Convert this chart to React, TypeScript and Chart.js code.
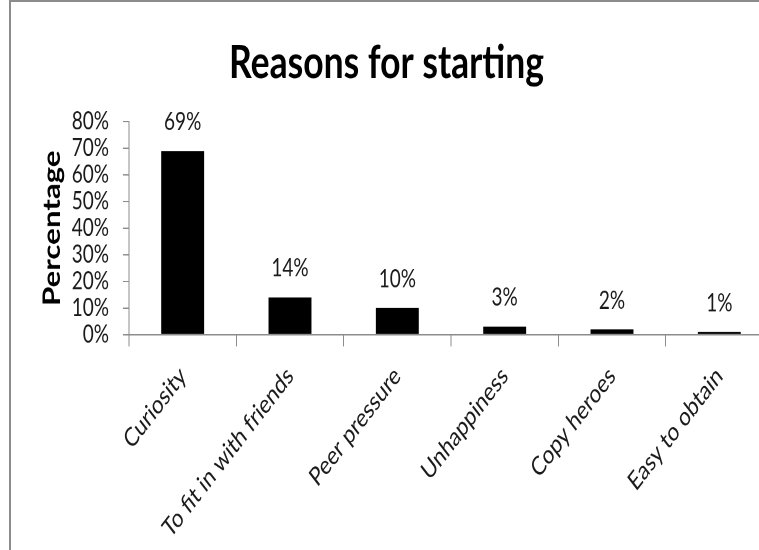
import React, { useEffect, useRef } from "react";
import { Chart, registerables } from "chart.js";

Chart.register(...registerables);

const categories = [
  "Curiosity",
  "To fit in with friends",
  "Peer pressure",
  "Unhappiness",
  "Copy heroes",
  "Easy to obtain",
];
const percentages = [69, 14, 10, 3, 2, 1];
const yTicks = [0, 10, 20, 30, 40, 50, 60, 70, 80];
const titleText = "Reasons for starting";
const yAxisTitle = "Percentage";

const FONT = "Lato, 'Open Sans', sans-serif";

// The reference image is the chart stretched vertically; the canvas is drawn
// at a lower height and displayed stretched to the full page height.
const CANVAS_W = 800;
const CANVAS_H = 423;
const SHOWN_H = 550;

const dataLabels = {
  id: "dataLabels",
  afterDatasetsDraw(chart: any) {
    const { ctx } = chart;
    const meta = chart.getDatasetMeta(0);
    ctx.save();
    ctx.font = `19px ${FONT}`;
    ctx.fillStyle = "#1a1a1a";
    ctx.textAlign = "center";
    ctx.textBaseline = "alphabetic";
    meta.data.forEach((bar: any, i: number) => {
      ctx.fillText(`${percentages[i]}%`, bar.x, bar.y - 16);
    });
    ctx.restore();
  },
};

export default function App() {
  const ref = useRef<HTMLCanvasElement | null>(null);
  useEffect(() => {
    if (!ref.current) return;
    const chart = new Chart(ref.current, {
      type: "bar",
      data: {
        labels: categories,
        datasets: [
          {
            data: percentages,
            backgroundColor: "#000",
            borderWidth: 0,
            barPercentage: 0.4,
            categoryPercentage: 1,
          },
        ],
      },
      options: {
        animation: false,
        responsive: false,
        devicePixelRatio: 2,
        layout: { padding: { left: 0, right: 27, top: 0, bottom: 0 } },
        plugins: {
          legend: { display: false },
          tooltip: { enabled: false },
          title: {
            display: true,
            text: titleText,
            color: "#000",
            font: { family: FONT, size: 35.5, weight: "bold" },
            padding: { top: 27, bottom: 24 },
          },
        },
        scales: {
          x: {
            afterFit: (scale: any) => {
              scale.height = scale.height - 6.3;
            },
            grid: {
              offset: true,
              drawOnChartArea: false,
              drawTicks: true,
              tickLength: 9,
              color: "#8c8c8c",
            },
            border: { color: "#8c8c8c", width: 1 },
            ticks: {
              autoSkip: false,
              maxRotation: 45,
              minRotation: 45,
              padding: 11,
              color: "#1a1a1a",
              font: { family: FONT, size: 20 },
            },
          },
          y: {
            min: 0,
            max: 80,
            afterBuildTicks: (scale: any) => {
              scale.ticks = yTicks.map((v) => ({ value: v }));
            },
            afterFit: (scale: any) => {
              scale.width = 129;
            },
            grid: {
              drawOnChartArea: false,
              drawTicks: true,
              tickLength: 6,
              color: "#8c8c8c",
            },
            border: { color: "#8c8c8c", width: 1 },
            ticks: {
              autoSkip: false,
              padding: 14,
              color: "#1a1a1a",
              font: { family: FONT, size: 19 },
              callback: (v: any) => `${v}%`,
            },
            title: {
              display: true,
              text: yAxisTitle,
              color: "#000",
              font: { family: FONT, size: 24, weight: "bold" },
              padding: { top: 38, bottom: 0 },
            },
          },
        },
      },
      plugins: [dataLabels],
    });
    return () => chart.destroy();
  }, []);

  return (
    <div
      style={{
        position: "fixed",
        left: 0,
        top: 0,
        width: 759,
        height: 550,
        overflow: "hidden",
        background: "#fff",
      }}
    >
      <canvas
        ref={ref}
        width={CANVAS_W}
        height={CANVAS_H}
        style={{
          position: "absolute",
          left: 0,
          top: 0,
          width: CANVAS_W,
          height: SHOWN_H,
        }}
      />
      <div
        style={{
          position: "absolute",
          left: 9,
          top: 0,
          width: 800,
          height: 600,
          borderLeft: "2px solid #8c8c8c",
          borderTop: "2px solid #8c8c8c",
          pointerEvents: "none",
        }}
      />
    </div>
  );
}
